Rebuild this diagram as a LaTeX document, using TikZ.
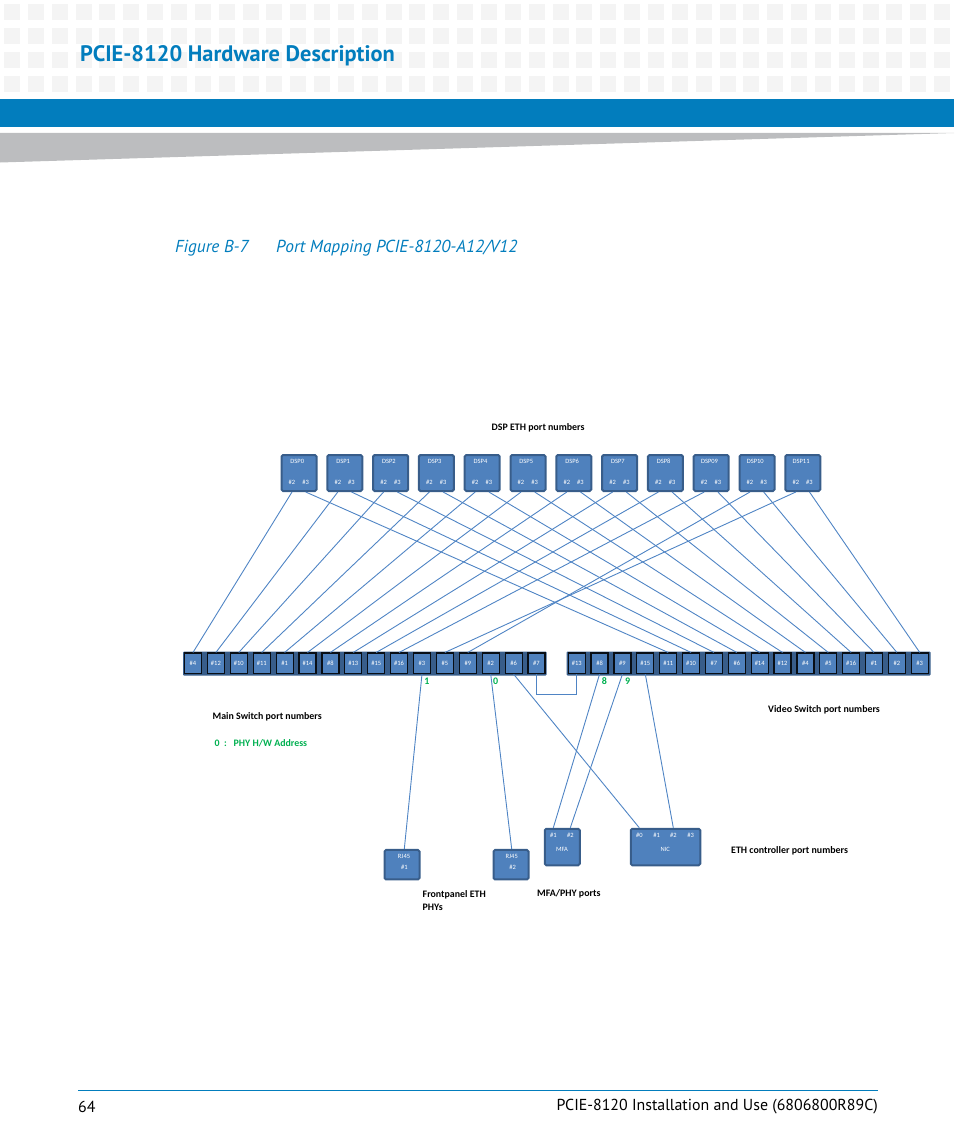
\documentclass[tikz,border=0pt]{standalone}
\usepackage{fontspec}
\setmainfont{Carlito}
\newfontfamily\framefont{PT Sans}
\usetikzlibrary{calc}
\definecolor{bandblue}{HTML}{027DBD}
\definecolor{wedgegray}{HTML}{BCBDBF}
\definecolor{squaregray}{HTML}{F4F4F4}
\definecolor{boxblue}{HTML}{4F81BD}
\definecolor{boxedge}{HTML}{385D8A}
\definecolor{linkblue}{HTML}{4F84C4}
\definecolor{phygreen}{HTML}{00B050}
\tikzset{
	devbox/.style={draw=boxedge, fill=boxblue, line width=2pt, rounded corners=1.5pt, inner sep=0pt},
	portbox/.style={draw=black!85!boxedge, fill=boxblue, line width=1.2pt, minimum width=17pt, minimum height=20.5pt, inner sep=0pt, text=white, font=\fontsize{6.5}{7}\selectfont},
	devtext/.style={text=white, inner sep=0pt, font=\fontsize{6.5}{7}\selectfont},
	caption/.style={anchor=west, inner sep=0pt, font=\bfseries\fontsize{9.9}{13}\selectfont, align=left},
	phytext/.style={text=phygreen, inner sep=0pt, font=\bfseries\fontsize{10}{12}\selectfont},
	link/.style={draw=linkblue, line width=0.9pt}
}

\begin{document}
\begin{tikzpicture}[x=1pt,y=-1pt]
	\useasboundingbox (0,0) rectangle (954,1145);
	\foreach \c in {0,...,39}
		\foreach \r in {0,...,3}
			\fill[squaregray] ({4+23.85*\c},{4+24*\r}) rectangle ++(16,16);
	\fill[bandblue] (0,99) rectangle (954,127);
	\fill[wedgegray] (0,133) -- (954,133) -- (0,162.5) -- cycle;
	\node[anchor=west, inner sep=0pt, text=bandblue, font=\framefont\bfseries\fontsize{22.4}{26}\selectfont] (title) at (80,56) {PCIE-8120 Hardware Description};
	\node[anchor=west, inner sep=0pt, text=bandblue, font=\framefont\itshape\fontsize{17.3}{20}\selectfont] (figno) at (175,248) {Figure B-7};
	\node[anchor=west, inner sep=0pt, text=bandblue, font=\framefont\itshape\fontsize{17.4}{20}\selectfont] (figname) at (276,248) {Port Mapping PCIE-8120-A12/V12};
	\draw[bandblue, line width=0.8pt] (78,1090.3) coordinate (footl) -- (878,1090.3) coordinate (footr);
	\node[anchor=west, inner sep=0pt, font=\framefont\fontsize{15.9}{20}\selectfont] (pageno) at (78,1107) {64};
	\node[anchor=east, inner sep=0pt, font=\framefont\fontsize{15.9}{20}\selectfont] (pagename) at (878,1107) {PCIE-8120 Installation and Use (6806800R89C)};

	\fill[boxedge, rounded corners=1pt] (183,651.5) rectangle (546.5,675.5);
	\fill[boxedge, rounded corners=1pt] (566.5,651.5) rectangle (930.5,675.5);
	\foreach \lbl [count=\i from 0] in {4,12,10,11,1,14,8,13,15,16,3,5,9,2,6,7}
		\node[portbox] (mp\i) at ({193+22.9*\i},663.3) {\#\lbl};
	\foreach \lbl [count=\i from 0] in {13,8,9,15,11,10,7,6,14,12,4,5,16,1,2,3}
		\node[portbox] (vp\i) at ({576.7+22.87*\i},663.3) {\#\lbl};

	\foreach \lbl [count=\i from 0] in {DSP0,DSP1,DSP2,DSP3,DSP4,DSP5,DSP6,DSP7,DSP8,DSP09,DSP10,DSP11} {
		\node[devbox, minimum width=35pt, minimum height=36pt] (dsp\i) at ({299+45.8*\i},473) {};
		\node[devtext] (dsp\i n) at ($(dsp\i.center)+(-1.7,-12)$) {\lbl};
		\node[devtext] (dsp\i a) at ($(dsp\i.center)+(-7,9)$) {\#2};
		\node[devtext] (dsp\i b) at ($(dsp\i.center)+(6.7,9)$) {\#3};
	}

	\node[devbox, minimum width=35pt, minimum height=29.5pt] (rj1) at (402,864.7) {};
	\node[devtext] (rj1n) at (404,856) {RJ45};
	\node[devtext] (rj1a) at (404.3,867.3) {\#1};
	\node[devbox, minimum width=35pt, minimum height=29.5pt] (rj2) at (511,864.7) {};
	\node[devtext] (rj2n) at (511.7,856) {RJ45};
	\node[devtext] (rj2a) at (512.7,867.3) {\#2};
	\node[devbox, minimum width=35pt, minimum height=36.5pt] (mfa) at (562.3,847) {};
	\node[devtext] (mfan) at (562,849) {MFA};
	\node[devtext] (mfaa) at (553.3,835) {\#1};
	\node[devtext] (mfab) at (570.3,835) {\#2};
	\node[devbox, minimum width=69.5pt, minimum height=36.5pt] (nic) at (665.5,847) {};
	\node[devtext] (nicn) at (665.3,849) {NIC};
	\node[devtext] (nica) at (639.3,835) {\#0};
	\node[devtext] (nicb) at (656.7,835) {\#1};
	\node[devtext] (nicc) at (673.3,835) {\#2};
	\node[devtext] (nicd) at (690.7,835) {\#3};

	\foreach \m [count=\i from 0] in {0,1,2,3,4,5,6,7,8,9,12,11}
		\draw[link] (dsp\i a |- dsp\i.south) -- (mp\m.north);
	\foreach \v [count=\i from 0] in {4,5,6,7,8,9,10,11,12,13,14,15}
		\draw[link] (dsp\i b |- dsp\i.south) -- (vp\v.north);
	\draw[link] (mp10.south) -- (rj1a |- rj1.north);
	\draw[link] (mp13.south) -- (rj2n |- rj2.north);
	\draw[link] (mp14.south) -- (nica |- nic.north);
	\draw[link] (vp1.south) -- (mfaa |- mfa.north);
	\draw[link] (vp2.south) -- (mfab |- mfa.north);
	\draw[link] (vp3.south) -- (nicc |- nic.north);
	\draw[link] (mp15.south) -- ++(0,20) -| (vp0.south);

	\node[phytext] (phy1) at (427,681) {1};
	\node[phytext] (phy0) at (495.7,681) {0};
	\node[phytext] (phy8) at (604.3,681.5) {8};
	\node[phytext] (phy9) at (627.7,681.5) {9};

	\node[caption] (dsplabel) at (491.5,427.5) {DSP ETH port numbers};
	\node[caption] (mainlabel) at (212.5,716.5) {Main Switch port numbers};
	\node[caption, text=phygreen] (phylabel) at (214.5,743) {0\ \ :\ \ \ PHY H/W Address};
	\node[caption] (videolabel) at (768,709.5) {Video Switch port numbers};
	\node[caption] (ethlabel) at (731,850.5) {ETH controller port numbers};
	\node[caption] (mfalabel) at (537,893.5) {MFA/PHY ports};
	\node[caption] (frontlabel) at (422.5,900.5) {Frontpanel ETH\\PHYs};
\end{tikzpicture}
\end{document}
